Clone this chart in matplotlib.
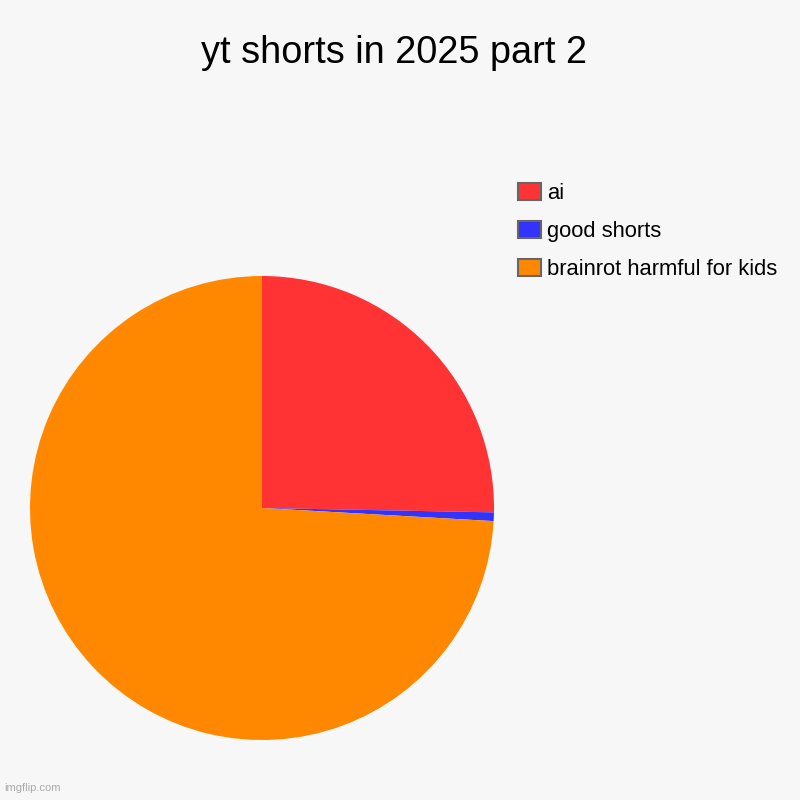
import matplotlib.pyplot as plt
from matplotlib.patches import Patch

plt.rcParams['font.family'] = ['Liberation Sans', 'DejaVu Sans']

labels = ["ai", "good shorts", "brainrot harmful for kids"]
values = [25.3, 0.6, 74.1]
colors = ["#FF3333", "#3333FF", "#FF8800"]

bg = "#F7F7F7"
fig = plt.figure(figsize=(8, 8), dpi=100, facecolor=bg)
ax = fig.add_axes([0.0375, 0.075, 0.58, 0.58])
ax.set_facecolor(bg)
ax.pie(values, colors=colors, startangle=90, counterclock=False,
       radius=1, wedgeprops={"linewidth": 0})
ax.set_xlim(-1, 1)
ax.set_ylim(-1, 1)
ax.set_aspect("equal")

fig.text(0.4925, 0.934, "yt shorts in 2025 part 2", ha="center", va="center",
         fontsize=27.3, color="#000000")

handles = [Patch(facecolor=c, edgecolor="#666666", linewidth=1.5) for c in colors]
fig.legend(handles, labels, loc="upper left", bbox_to_anchor=(0.6225, 0.796),
           frameon=False, fontsize=15.8, handlelength=1.05, handleheight=0.81,
           handletextpad=0.3, labelspacing=0.78)

fig.text(0.005, 0.011, "imgflip.com", fontsize=8, color="#AAAAAA")

fig.savefig("out.png", dpi=100, facecolor=bg)
